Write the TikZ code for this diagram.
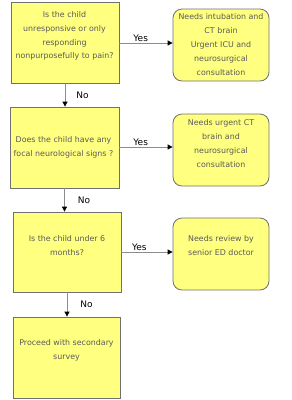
\documentclass[tikz,border=0pt]{standalone}
\usepackage{fontspec}
\setmainfont{DejaVu Sans}
\usetikzlibrary{arrows.meta,positioning,shapes.geometric}
\definecolor{boxyellow}{HTML}{FFFF80}
\definecolor{linegray}{HTML}{8C8C8C}
\definecolor{textgray}{HTML}{5A5A5A}
\tikzset{
  askbox/.style={draw=linegray!80!black,line width=.8pt,fill=boxyellow,inner sep=0pt,minimum width=108pt,minimum height=81pt},
  actbox/.style={askbox,rounded corners=9pt,minimum width=96pt,minimum height=72pt},
  boxtext/.style={font=\fontsize{7.9}{13.8}\selectfont,text=textgray,align=center,inner sep=0pt},
  flow/.style={draw=linegray,line width=.8pt,-{Triangle[length=5pt,width=5pt,fill=black,color=black]}},
  answer/.style={font=\fontsize{9}{10}\selectfont,text=black,inner sep=1pt}
}
\begin{document}
\begin{tikzpicture}[x=1pt,y=-1pt]
\useasboundingbox (0,0) rectangle (292,400);
% questions on the left
\node[askbox] (ask1) at (65,42.5) {};
\node[askbox,minimum width=109pt] (ask2) at (64.5,147.5) {};
\node[askbox,minimum height=80pt] (ask3) at (67,252) {};
\node[askbox,minimum width=107pt] (ask4) at (66.5,357.5) {};
\node[boxtext] (askt1) at (64.5,36) {Is the child\\unresponsive or only\\responding\\nonpurposefully to pain?};
\node[boxtext] (askt2) at (63.5,147.5) {Does the child have any\\focal neurological signs ?};
\node[boxtext] (askt3) at (67,245.5) {Is the child under 6\\months?};
\node[boxtext] (askt4) at (66.5,350) {Proceed with secondary\\survey};
% actions on the right
\node[actbox] (act1) at (221,45) {};
\node[actbox] (act2) at (221,150) {};
\node[actbox] (act3) at (221,254) {};
\node[boxtext] (actt1) at (221,44.5) {Needs intubation and\\CT brain\\Urgent ICU and\\neurosurgical\\consultation};
\node[boxtext] (actt2) at (221,143.5) {Needs urgent CT\\brain and\\neurosurgical\\consultation};
\node[boxtext] (actt3) at (221,245.5) {Needs review by\\senior ED doctor};
% yes arrows
\draw[flow] (ask1.east |- 0,43) -- node[answer,above,pos=.4] {Yes} (act1.west |- 0,43);
\draw[flow] (ask2.east |- 0,147) -- node[answer,above,pos=.4] {Yes} (act2.west |- 0,147);
\draw[flow] (ask3.east |- 0,252) -- node[answer,above,pos=.35] {Yes} (act3.west |- 0,252);
% no arrows
\draw[flow] (ask1.south) -- node[answer,right=10pt] {No} (ask1.south |- ask2.north);
\draw[flow] (ask2.south) -- node[answer,right=12pt] {No} (ask2.south |- ask3.north);
\draw[flow] (ask3.south) -- node[answer,right=12pt] {No} (ask3.south |- ask4.north);
\end{tikzpicture}
\end{document}
